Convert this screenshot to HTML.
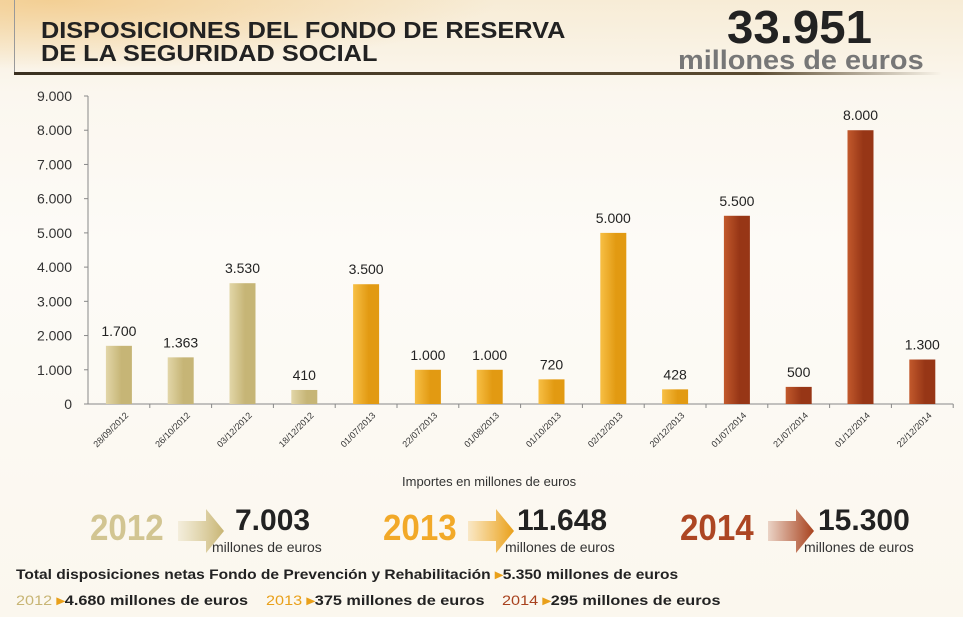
<!DOCTYPE html>
<html><head><meta charset="utf-8"><style>
body{margin:0;width:963px;height:617px;overflow:hidden;background:linear-gradient(180deg,#f7ecd6 0%,#fbf7ef 15%,#fdfbf7 40%,#fbf7ee 100%);font-family:"Liberation Sans",sans-serif;position:relative}
.t{position:absolute;white-space:nowrap}
.n{position:absolute;white-space:nowrap;font-size:14px;font-weight:bold;color:#222;transform:scaleX(1.16);transform-origin:left}
</style></head><body>
<div style="position:absolute;left:0;top:0;width:500px;height:70px;background:radial-gradient(ellipse at 10% 0%,#f3cf94 0%,rgba(247,236,214,0) 70%)"></div>
<div style="position:absolute;left:14px;top:0;width:1px;height:74px;background:#999"></div>
<div style="position:absolute;left:14px;top:72px;width:928px;height:3px;background:linear-gradient(90deg,#3a3020,#5a4a30 80%,rgba(90,74,48,0))"></div>
<div class="t" style="left:41px;top:19px;font-size:23px;font-weight:bold;line-height:23px;color:#222;transform:scaleX(1.1);transform-origin:left">DISPOSICIONES DEL FONDO DE RESERVA<br>DE LA SEGURIDAD SOCIAL</div>
<div class="t" style="left:727px;top:0px;font-size:46px;font-weight:bold;color:#222;transform:scaleX(1.03);transform-origin:left">33.951</div>
<div class="t" style="left:678px;top:45px;font-size:27px;font-weight:bold;color:#777;transform:scaleX(1.07);transform-origin:left">millones de euros</div>
<svg id="chart" width="963" height="480" style="position:absolute;left:0;top:0"></svg>
<div class="t" style="left:402px;top:474px;font-size:13px;color:#333">Importes en millones de euros</div>

<div class="t" style="left:90px;top:507px;font-size:36px;font-weight:bold;color:#d2c592;transform:scaleX(0.92);transform-origin:left">2012</div>
<svg style="position:absolute;left:178px;top:509px" width="50" height="44"><defs><linearGradient id="a1"><stop offset="0" stop-color="#d4c48a" stop-opacity="0.2"/><stop offset="1" stop-color="#c8b574"/></linearGradient></defs><polygon points="0,12 28,12 28,0 46,22 28,44 28,32 0,32" fill="url(#a1)"/></svg>
<div class="t" style="left:235px;top:504px;font-size:30px;font-weight:bold;color:#222">7.003</div>
<div class="t" style="left:212px;top:539px;font-size:14px;color:#333">millones de euros</div>

<div class="t" style="left:383px;top:507px;font-size:36px;font-weight:bold;color:#f2a928;transform:scaleX(0.92);transform-origin:left">2013</div>
<svg style="position:absolute;left:468px;top:509px" width="50" height="44"><defs><linearGradient id="a2"><stop offset="0" stop-color="#f0a820" stop-opacity="0.2"/><stop offset="1" stop-color="#e9a01a"/></linearGradient></defs><polygon points="0,12 28,12 28,0 46,22 28,44 28,32 0,32" fill="url(#a2)"/></svg>
<div class="t" style="left:517px;top:504px;font-size:30px;font-weight:bold;color:#222">11.648</div>
<div class="t" style="left:505px;top:539px;font-size:14px;color:#333">millones de euros</div>

<div class="t" style="left:680px;top:507px;font-size:36px;font-weight:bold;color:#ad4623;transform:scaleX(0.92);transform-origin:left">2014</div>
<svg style="position:absolute;left:768px;top:509px" width="50" height="44"><defs><linearGradient id="a3"><stop offset="0" stop-color="#a8421e" stop-opacity="0.2"/><stop offset="1" stop-color="#a8421e"/></linearGradient></defs><polygon points="0,12 28,12 28,0 46,22 28,44 28,32 0,32" fill="url(#a3)"/></svg>
<div class="t" style="left:818px;top:504px;font-size:30px;font-weight:bold;color:#222">15.300</div>
<div class="t" style="left:804px;top:539px;font-size:14px;color:#333">millones de euros</div>

<div class="n" style="left:16px;top:566px;transform:scaleX(1.11)">Total disposiciones netas Fondo de Prevención y Rehabilitación <span style="color:#e9a01a">&#9656;</span>5.350 millones de euros</div>
<div class="n" style="left:16px;top:592px"><span style="color:#c8b574;font-weight:normal">2012</span> <span style="color:#e9a01a">&#9656;</span>4.680 millones de euros</div>
<div class="n" style="left:266px;top:592px"><span style="color:#e9a01a;font-weight:normal">2013</span> <span style="color:#e9a01a">&#9656;</span>375 millones de euros</div>
<div class="n" style="left:502px;top:592px"><span style="color:#a8421e;font-weight:normal">2014</span> <span style="color:#e9a01a">&#9656;</span>295 millones de euros</div>
<script>
const categories=["28/09/2012","26/10/2012","03/12/2012","18/12/2012","01/07/2013","22/07/2013","01/08/2013","01/10/2013","02/12/2013","20/12/2013","01/07/2014","21/07/2014","01/12/2014","22/12/2014"];
const values=[1700,1363,3530,410,3500,1000,1000,720,5000,428,5500,500,8000,1300];
const valueLabels=["1.700","1.363","3.530","410","3.500","1.000","1.000","720","5.000","428","5.500","500","8.000","1.300"];
const years=[2012,2012,2012,2012,2013,2013,2013,2013,2013,2013,2014,2014,2014,2014];
const yTicks=[0,1000,2000,3000,4000,5000,6000,7000,8000,9000];
const yTickLabels=["0","1.000","2.000","3.000","4.000","5.000","6.000","7.000","8.000","9.000"];
const svg=document.getElementById('chart');const NS="http://www.w3.org/2000/svg";
const x0=88,band=61.8,y0=404,yTop=96,yMax=9000;
const y=v=>y0-(v/yMax)*(y0-yTop);
const xc=i=>x0+band/2+i*band;
function mk(t,a){const e=document.createElementNS(NS,t);for(const k in a)e.setAttribute(k,a[k]);svg.appendChild(e);return e;}
const defs=mk('defs',{});
const cols={2012:["#e2d6a8","#c6b576"],2013:["#f7bf45","#e29a12"],2014:["#c2592c","#973616"]};
for(const yr in cols){const g=document.createElementNS(NS,'linearGradient');g.setAttribute('id','g'+yr);
[[0,cols[yr][0]],[0.6,cols[yr][1]],[1,cols[yr][1]]].forEach(s=>{const st=document.createElementNS(NS,'stop');st.setAttribute('offset',s[0]);st.setAttribute('stop-color',s[1]);g.appendChild(st);});defs.appendChild(g);}
const ax=mk('line',{x1:x0,y1:yTop,x2:x0,y2:y0,stroke:'#888'});

const bx=mk('line',{x1:x0-4,y1:y0,x2:x0+band*14,y2:y0,stroke:'#888'});

yTicks.forEach((v,i)=>{mk('line',{x1:x0-4,y1:y(v),x2:x0,y2:y(v),stroke:'#888'});
const t=mk('text',{x:x0-16,y:y(v)+5,'text-anchor':'end','font-size':14,fill:'#333'});t.textContent=yTickLabels[i];
});
categories.forEach((c,i)=>{
mk('line',{x1:x0+band*(i+1),y1:y0,x2:x0+band*(i+1),y2:y0+4,stroke:'#888'});
const r=mk('rect',{x:xc(i)-13,y:y(values[i]),width:26,height:y0-y(values[i]),fill:'url(#g'+years[i]+')'});

const l=mk('text',{x:xc(i),y:y(values[i])-10,'text-anchor':'middle','font-size':14,fill:'#222'});l.textContent=valueLabels[i];

const d=mk('text',{x:xc(i)+10,y:y0+12,'text-anchor':'end','font-size':9,fill:'#333',transform:`rotate(-45 ${xc(i)+10} ${y0+12})`});d.textContent=c;

});
</script>
</body></html>
